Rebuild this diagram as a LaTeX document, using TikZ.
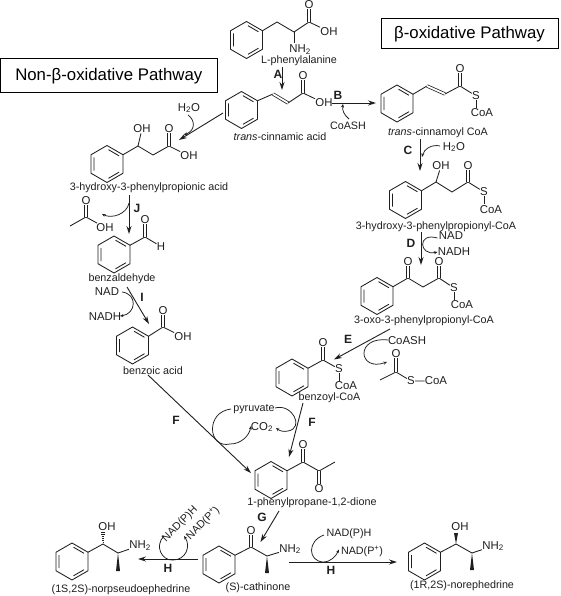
\documentclass[tikz,border=0pt]{standalone}
\usepackage{fontspec}
\setmainfont{Liberation Sans}
\usetikzlibrary{arrows.meta,calc}
\newcommand{\benz}[2]{%
  \begin{scope}[shift={(#1,#2)}]
    \draw[bond,line join=miter] (0,-18.5)--(16,-9.25)--(16,9.25)--(0,18.5)--(-16,9.25)--(-16,-9.25)--cycle;
    \draw[bond] (1.5,-14.3)--(12,-8.2) (12,8.2)--(1.5,14.3) (-13,-6.5)--(-13,6.5);
  \end{scope}}
\newcommand{\wedgedown}[2]{\fill[ink] (#1) -- ($(#2)+(-2,0)$) -- ($(#2)+(2,0)$) -- cycle;}
\tikzset{
  x=1pt,y=-1pt,
  ink/.style={color=black!88},
  bond/.style={ink,line width=0.85pt},
  dbl/.style={ink,line width=0.75pt,double=white,double distance=1.8pt},
  atom/.style={ink,font=\fontsize{11.4}{13}\selectfont,inner sep=0.2pt},
  lab/.style={ink,font=\fontsize{10.75}{12}\selectfont,inner sep=0.5pt,yshift=-1.2pt},
  stp/.style={ink,font=\bfseries\fontsize{12}{14}\selectfont,inner sep=0.5pt},
  stps/.style={ink,font=\bfseries\fontsize{12}{14}\rmfamily\selectfont,inner sep=0.5pt},
  rxn/.style={ink,line width=0.9pt,-{Stealth[length=8pt,width=5pt]}},
  turn/.style={ink,line width=0.75pt,-{Stealth[length=3.5pt,width=3pt]}},
  title/.style={draw=black,line width=1pt,fill=white,font=\fontsize{16.8}{20}\selectfont,inner sep=0pt,anchor=center},
}
\begin{document}
\begin{tikzpicture}
\useasboundingbox (0,0) rectangle (560,596);
\fill[white] (0,0) rectangle (560,596);
% title boxes
\node[title,minimum width=216.5,minimum height=34] (tn) at (108.8,76) {Non-β-oxidative Pathway\hspace{5pt}};
\node[title,minimum width=177,minimum height=30] (tb) at (469.5,34) {β-oxidative Pathway\hspace{3pt}};
% L-phenylalanine
\benz{246.5}{40}
\coordinate (p1) at (262.5,30.75); \coordinate (p2) at (277,22); \coordinate (p3) at (294,32); \coordinate (p4) at (309,22);
\node[atom] (pO) at (309,5) {O}; \node[atom] (pOH) at (329,31.5) {OH}; \node[atom] (pN) at (300,49.5) {NH\textsubscript{2}};
\draw[bond] (p1)--(p2)--(p3)--(p4)--(pOH); \draw[dbl] (p4)--(pO); \draw[bond] (p3)--(294,43);
\node[lab] (pl) at (299,60) {L-phenylalanine};
% A
\node[stp] (A) at (278,74) {A};
\coordinate (a1) at (282,67); \coordinate (a2) at (282,90); \draw[rxn] (a1)--(a2);
% trans-cinnamic acid
\benz{241.5}{110}
\coordinate (c1) at (257.5,100.75); \coordinate (c2) at (273,94); \coordinate (c3) at (288,103); \coordinate (c4) at (303,93);
\node[atom] (cO) at (303,76) {O}; \node[atom] (cOH) at (324,103) {OH};
\draw[bond] (c1)--(c2); \draw[dbl] (c2)--(c3); \draw[bond] (c3)--(c4)--(cOH); \draw[dbl] (c4)--(cO);
\node[lab] (cl) at (280,135) {\textit{trans}-cinnamic acid};
% B
\node[stp] (B) at (338,95) {B};
\coordinate (b1) at (332,103); \coordinate (b2) at (376,103); \draw[rxn] (b1)--(b2);
\node[lab] (bc) at (348,125) {CoASH};
\coordinate (b3) at (349,119); \coordinate (b4) at (343,104);
\draw[turn] (b3) .. controls (344,115) and (342,110) .. (b4);
% trans-cinnamoyl CoA
\benz{397}{103.5}
\coordinate (t1) at (413,94.25); \coordinate (t2) at (427,86); \coordinate (t3) at (445,94); \coordinate (t4) at (460,86);
\node[atom] (tO) at (460,69) {O}; \node[atom] (tS) at (476,96) {S}; \node[atom] (tC) at (482,113) {CoA};
\draw[bond] (t1)--(t2); \draw[dbl] (t2)--(t3); \draw[bond] (t3)--(t4)--(tS); \draw[dbl] (t4)--(tO); \draw[bond] (tS)--(476,108);
\node[lab] (tl) at (438,132) {\textit{trans}-cinnamoyl CoA};
% C
\node[stp] (C) at (408,150) {C};
\coordinate (c5) at (420,139); \coordinate (c6) at (420,171); \draw[rxn] (c5)--(c6);
\node[atom] (cw) at (454,147) {H\textsubscript{2}O};
\coordinate (c7) at (440,146); \coordinate (c8) at (422,157);
\draw[turn] (c7) .. controls (432,144) and (424,149) .. (c8);
% 3-hydroxy-3-phenylpropionyl-CoA
\benz{405.5}{200}
\coordinate (h1) at (421.5,190.75); \coordinate (h2) at (436,182); \coordinate (h3) at (452,192); \coordinate (h4) at (468,182);
\node[atom] (hOH) at (441,166) {OH}; \node[atom] (hO) at (468,166) {O}; \node[atom] (hS) at (484,192) {S}; \node[atom] (hC) at (491,210) {CoA};
\draw[bond] (h1)--(h2)--(h3)--(h4)--(hS); \draw[bond] (h2)--(hOH); \draw[dbl] (h4)--(hO); \draw[bond] (hS)--(484,204);
\node[lab] (hl) at (436,226) {3-hydroxy-3-phenylpropionyl-CoA};
% D
\node[stps] (D) at (411,243) {D};
\coordinate (d1) at (421,232); \coordinate (d2) at (421,265); \draw[rxn] (d1)--(d2);
\node[atom] (dn) at (451,236) {NAD}; \node[atom] (dh) at (454,252) {NADH};
\coordinate (d3) at (437.5,238); \coordinate (d4) at (437.5,252);
\draw[turn] (d3) .. controls (417,232) and (419,256) .. (d4);
% 3-oxo-3-phenylpropionyl-CoA
\benz{377}{296}
\coordinate (o1) at (393,286.75); \coordinate (o2) at (408,278); \coordinate (o3) at (423,287); \coordinate (o4) at (439,278);
\node[atom] (oO1) at (408,262) {O}; \node[atom] (oO2) at (439,262) {O}; \node[atom] (oS) at (454,288) {S}; \node[atom] (oC) at (462,305) {CoA};
\draw[bond] (o1)--(o2)--(o3)--(o4)--(oS); \draw[dbl] (o2)--(oO1); \draw[dbl] (o4)--(oO2); \draw[bond] (oS)--(454,300);
\node[lab] (ol) at (424,320) {3-oxo-3-phenylpropionyl-CoA};
% E
\node[stps] (E) at (348,339) {E};
\coordinate (e1) at (390,329); \coordinate (e2) at (334,359.5); \draw[rxn] (e1)--(e2);
\node[atom] (ec) at (407,341) {CoASH};
\coordinate (e3) at (388,340); \coordinate (e4) at (387,362);
\draw[turn] (e3) .. controls (355,336) and (358,372) .. (e4);
% acetyl-S-CoA
\coordinate (k1) at (380,380); \coordinate (k2) at (396,372);
\node[atom] (kO) at (396,354) {O}; \node[atom] (kS) at (411,381) {S}; \node[atom] (kC) at (436,381) {CoA};
\draw[bond] (k1)--(k2)--(kS)--(kC); \draw[dbl] (k2)--(kO);
% benzoyl-CoA
\benz{292}{377.5}
\coordinate (z1) at (308,368.25); \coordinate (z2) at (323,360);
\node[atom] (zO) at (323,343) {O}; \node[atom] (zS) at (339,369) {S}; \node[atom] (zC) at (346,386) {CoA};
\draw[bond] (z1)--(z2)--(zS); \draw[dbl] (z2)--(zO); \draw[bond] (zS)--(339,381);
\node[lab] (zl) at (329.5,397) {benzoyl-CoA};
% F right
\node[stp] (F1) at (312,422) {F};
\coordinate (f1) at (303,403); \coordinate (f2) at (289,457); \draw[rxn] (f1)--(f2);
\node[lab] (py) at (254,408) {pyruvate}; \node[atom] (co) at (262,427) {CO\textsubscript{2}};
\coordinate (f3) at (231,409); \coordinate (f4) at (251,426); \coordinate (f5) at (275,408); \coordinate (f6) at (276,428);
\draw[turn] (f3) .. controls (205,412) and (208,449) .. (230,444) .. controls (241,444) and (249,436) .. (f4);
\draw[turn] (f5) .. controls (292,403) and (305,428) .. (288,431) .. controls (284,432) and (280,431) .. (f6);
% F left
\node[stp] (F2) at (176,420) {F};
\coordinate (f7) at (148,375); \coordinate (f8) at (251,473); \draw[rxn] (f7)--(f8);
% 1-phenylpropane-1,2-dione
\benz{271}{480}
\coordinate (y1) at (287,470.75); \coordinate (y2) at (303,462); \coordinate (y3) at (319,471); \coordinate (y4) at (335,462);
\node[atom] (yO1) at (303,445) {O}; \node[atom] (yO2) at (319,488.5) {O};
\draw[bond] (y1)--(y2)--(y3)--(y4); \draw[dbl] (y2)--(yO1); \draw[dbl] (y3)--(yO2);
\node[lab] (yl) at (312,502) {1-phenylpropane-1,2-dione};
% G
\node[stp] (G) at (262,517) {G};
\coordinate (g1) at (279,511); \coordinate (g2) at (260.5,542); \draw[rxn] (g1)--(g2);
% (S)-cathinone
\benz{219}{564.5}
\coordinate (s1) at (235,555.25); \coordinate (s2) at (251,547); \coordinate (s3) at (267,556); \coordinate (s4) at (267,573);
\node[atom] (sO) at (251,531) {O}; \node[atom] (sN) at (290,549) {NH\textsubscript{2}};
\draw[bond] (s1)--(s2)--(s3)--(sN); \draw[dbl] (s2)--(sO); \wedgedown{s3}{s4}
\node[lab] (sl) at (258,587) {(S)-cathinone};
% H left
\node[stp] (H1) at (168,568) {H};
\coordinate (l1) at (198,559); \coordinate (l2) at (138,559); \draw[rxn] (l1)--(l2);
\node[lab,rotate=45] (l3) at (180,523) {NAD(P)H}; \node[lab,rotate=45] (l4) at (203,522) {NAD(P\textsuperscript{+})};
\coordinate (l5) at (164,536); \coordinate (l6) at (184,536);
\draw[turn] (l5) .. controls (154,546) and (162,561) .. (173,560) .. controls (186,560) and (191,546) .. (l6);
% norpseudoephedrine
\benz{72}{561.5}
\coordinate (n1) at (88,552.25); \coordinate (n2) at (103,544); \coordinate (n3) at (118,553); \coordinate (n4) at (118,571);
\node[atom] (nOH) at (107,527) {OH}; \node[atom] (nN) at (140,545.5) {NH\textsubscript{2}};
\draw[bond] (n1)--(n2)--(n3)--(nN); \wedgedown{n3}{n4}
\foreach \d/\w in {1.5/0.4,3.5/0.7,5.5/1.0,7.5/1.3,9.5/1.6,11.5/1.9}
  \draw[ink,line width=0.6pt] ($(n2)+(-\w,-\d)$)--($(n2)+(\w,-\d)$);
\node[lab] (nl) at (121,589) {(1S,2S)-norpseudoephedrine};
% H right
\node[stp] (H2) at (331,570) {H};
\coordinate (r1) at (289,562); \coordinate (r2) at (397,562); \draw[rxn] (r1)--(r2);
\node[lab] (r3) at (349,533) {NAD(P)H}; \node[lab] (r4) at (362,550) {NAD(P\textsuperscript{+})};
\coordinate (r5) at (324,535); \coordinate (r6) at (339,549.5);
\draw[turn] (r5) .. controls (307,541) and (308,561) .. (323,562) .. controls (331,562) and (336,556) .. (r6);
% norephedrine
\benz{424.5}{561.5}
\coordinate (m1) at (440.5,552.25); \coordinate (m2) at (456,544); \coordinate (m3) at (472,553); \coordinate (m4) at (472,570); \coordinate (m5) at (456,533);
\node[atom] (mOH) at (460,527) {OH}; \node[atom] (mN) at (493,546) {NH\textsubscript{2}};
\draw[bond] (m1)--(m2)--(m3)--(mN); \wedgedown{m3}{m4}
\fill[ink] (m2)--($(m5)+(-2,0)$)--($(m5)+(2,0)$)--cycle;
\node[lab] (ml) at (462,585) {(1R,2S)-norephedrine};
% 3-hydroxy-3-phenylpropionic acid
\benz{107}{164}
\coordinate (q1) at (123,154.75); \coordinate (q2) at (138,146); \coordinate (q3) at (153,155); \coordinate (q4) at (169,146);
\node[atom] (qOH) at (142,129) {OH}; \node[atom] (qO) at (169,129) {O}; \node[atom] (qA) at (189,156) {OH};
\draw[bond] (q1)--(q2)--(q3)--(q4)--(qA); \draw[bond] (q2)--(qOH); \draw[dbl] (q4)--(qO);
\node[lab] (ql) at (149,187) {3-hydroxy-3-phenylpropionic acid};
% cinnamic -> hydroxy acid
\coordinate (w1) at (223,113); \coordinate (w2) at (179,140); \draw[rxn] (w1)--(w2);
\node[atom] (wa) at (189,108) {H\textsubscript{2}O};
\coordinate (w3) at (188,115); \coordinate (w4) at (184,135);
\draw[turn] (w3) .. controls (195,120) and (196,130) .. (w4);
% J
\node[stp] (J) at (137,208) {J};
\coordinate (j1) at (129,195); \coordinate (j2) at (129,234); \draw[rxn] (j1)--(j2);
\coordinate (j3) at (129,203); \coordinate (j4) at (102,214);
\draw[turn] (j3) .. controls (127,214) and (112,219) .. (j4);
% acetic acid
\coordinate (v1) at (70,226); \coordinate (v2) at (86,217);
\node[atom] (vO) at (86,201) {O}; \node[atom] (vH) at (105,227.5) {OH};
\draw[bond] (v1)--(v2)--(vH); \draw[dbl] (v2)--(vO);
% benzaldehyde
\benz{114}{254.5}
\coordinate (x1) at (130,245.25); \coordinate (x2) at (145,237);
\node[atom] (xO) at (145,220) {O}; \node[atom] (xH) at (161,246.5) {H};
\draw[bond] (x1)--(x2)--(xH); \draw[dbl] (x2)--(xO);
\node[lab] (xl) at (122,278) {benzaldehyde};
% I
\node[stp] (I) at (142,297) {I};
\coordinate (i1) at (127,287); \coordinate (i2) at (149,324); \draw[rxn] (i1)--(i2);
\node[atom] (in) at (107,292) {NAD}; \node[atom] (ih) at (105,317) {NADH};
\coordinate (i3) at (122,292); \coordinate (i4) at (120,316);
\draw[turn] (i3) .. controls (138,294) and (136,314) .. (i4);
% benzoic acid
\benz{132.5}{345.5}
\coordinate (u1) at (148.5,336.25); \coordinate (u2) at (163,327);
\node[atom] (uO) at (163,311) {O}; \node[atom] (uH) at (183,337) {OH};
\draw[bond] (u1)--(u2)--(uH); \draw[dbl] (u2)--(uO);
\node[lab] (ul) at (153,369) {benzoic acid};
\end{tikzpicture}
\end{document}
